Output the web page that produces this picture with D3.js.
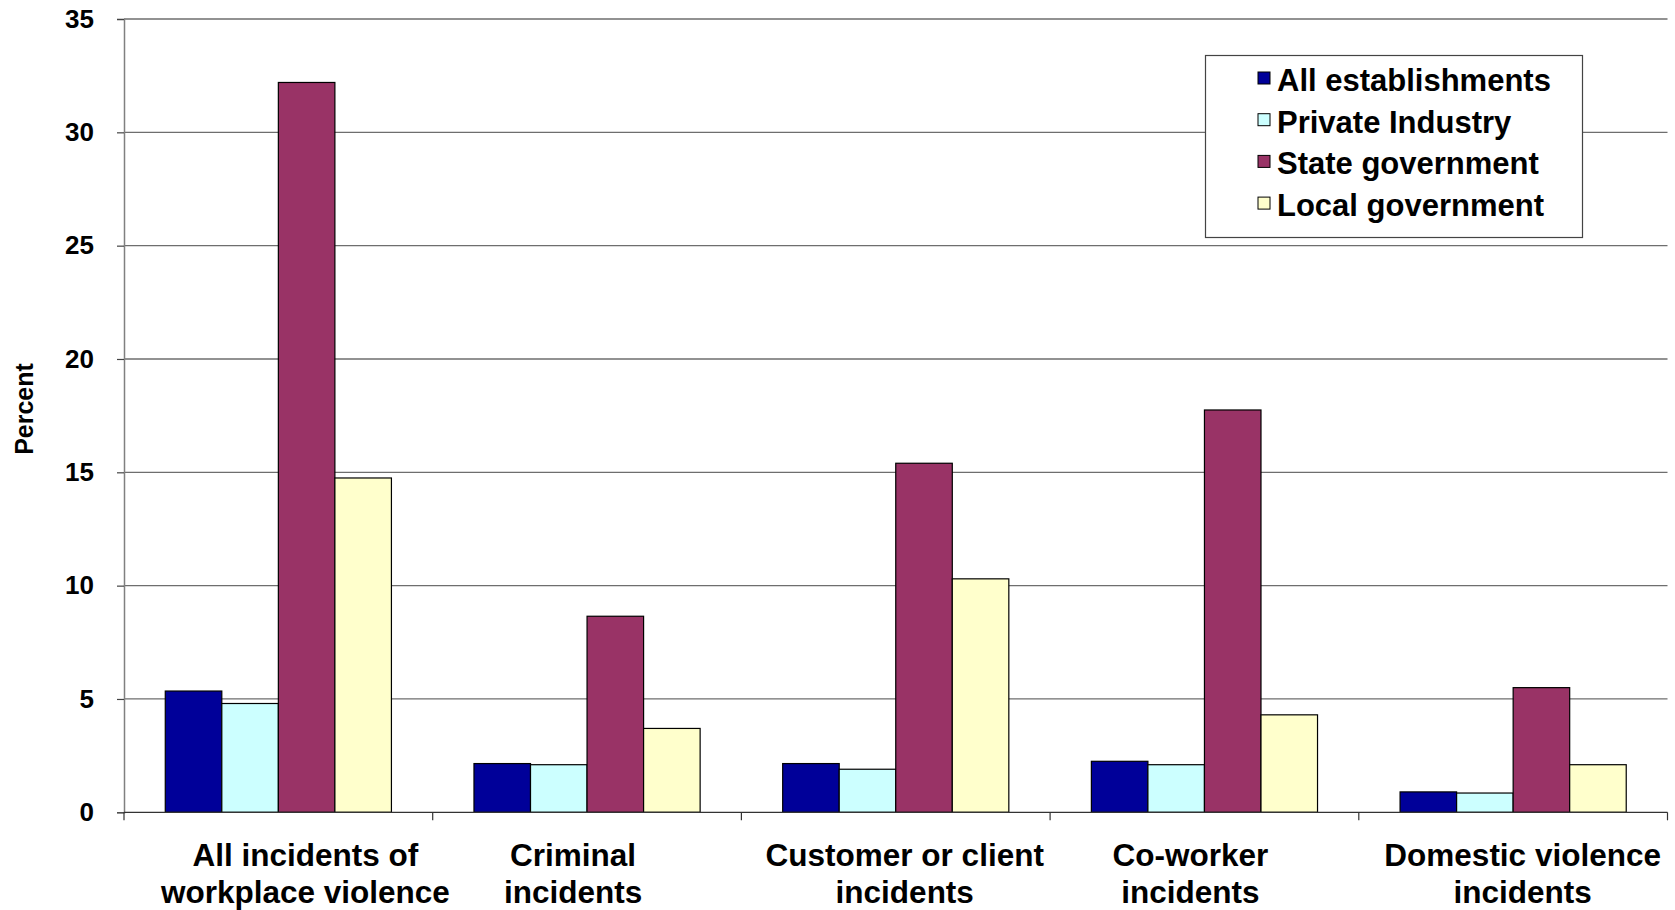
<!DOCTYPE html>
<html>
<head>
<meta charset="utf-8">
<script src="https://cdn.jsdelivr.net/npm/d3@7"></script>
<style>
  html, body { margin: 0; padding: 0; background: #fff; }
  text { font-family: "Liberation Sans", Arial, sans-serif; font-weight: bold; fill: #000; }
</style>
</head>
<body>
<svg id="chart" width="1675" height="910"></svg>
<script>
// ---- data ----
const categories = [
  ["All incidents of", "workplace violence"],
  ["Criminal", "incidents"],
  ["Customer or client", "incidents"],
  ["Co-worker", "incidents"],
  ["Domestic violence", "incidents"]
];
const seriesNames = ["All establishments", "Private Industry", "State government", "Local government"];
const allEstablishments = [5.35, 2.15, 2.15, 2.25, 0.9];
const privateIndustry   = [4.8, 2.1, 1.9, 2.1, 0.85];
const stateGovernment   = [32.2, 8.65, 15.4, 17.75, 5.5];
const localGovernment   = [14.75, 3.7, 10.3, 4.3, 2.1];
const yTicks = [0, 5, 10, 15, 20, 25, 30, 35];
const yTitle = "Percent";

const seriesValues = [allEstablishments, privateIndustry, stateGovernment, localGovernment];
const colors = ["#000099", "#CCFFFF", "#993366", "#FFFFCC"];

// ---- layout ----
const svg = d3.select("#chart");
const pLeft = 124, pRight = 1667.5, pTop = 19, pBottom = 812.3;
const catKeys = categories.map((c, i) => i);

const x0 = d3.scaleBand().domain(catKeys).range([pLeft, pRight]).paddingInner(0).paddingOuter(0);
const x1 = d3.scaleBand().domain(seriesNames).range([0, x0.bandwidth()]).paddingInner(0).paddingOuter(0.73);
const y = d3.scaleLinear().domain([0, 35]).range([pBottom, pTop]);

// gridlines
svg.append("g").selectAll("line").data(yTicks.filter(t => t > 0)).join("line")
  .attr("x1", pLeft).attr("x2", pRight)
  .attr("y1", d => y(d)).attr("y2", d => y(d))
  .attr("stroke", "#6e6e6e").attr("stroke-width", 1.3);

// y axis
const yAxis = d3.axisLeft(y).tickValues(yTicks).tickSize(7).tickPadding(23).tickFormat(d3.format("d"));
const gy = svg.append("g").attr("transform", `translate(${pLeft},0)`).call(yAxis);
gy.select(".domain").attr("stroke", "#808080").attr("stroke-width", 1.5);
gy.selectAll(".tick line").attr("stroke", "#444").attr("stroke-width", 1.2);
gy.selectAll(".tick text").style("font-size", "26px").style("font-family", "'Liberation Sans', Arial, sans-serif")
  .style("font-weight", "bold").attr("fill", "#000");

// bars
const groups = svg.append("g").selectAll("g").data(catKeys).join("g")
  .attr("transform", d => `translate(${x0(d)},0)`);
groups.selectAll("rect")
  .data(ci => seriesNames.map((s, si) => ({ s, si, v: seriesValues[si][ci] })))
  .join("rect")
  .attr("x", d => x1(d.s))
  .attr("width", x1.bandwidth())
  .attr("y", d => y(d.v))
  .attr("height", d => y(0) - y(d.v))
  .attr("fill", d => colors[d.si])
  .attr("stroke", "#000").attr("stroke-width", 1.2);

// x axis
const xAxisScale = d3.scaleLinear().domain([0, categories.length]).range([pLeft, pRight]);
const gx = svg.append("g").attr("transform", `translate(0,${pBottom})`);
gx.append("line").attr("x1", pLeft).attr("x2", pRight).attr("y1", 0).attr("y2", 0)
  .attr("stroke", "#333").attr("stroke-width", 1.3);
gx.selectAll("line.tk").data(d3.range(0, categories.length + 1)).join("line").attr("class", "tk")
  .attr("x1", d => xAxisScale(d)).attr("x2", d => xAxisScale(d))
  .attr("y1", 0).attr("y2", 8).attr("stroke", "#333").attr("stroke-width", 1.2);

// category labels (small nudges mimic the original's label placement)
const labelNudge = [27, -14, 9, -14, 9.5];
const lab = svg.append("g").selectAll("text").data(catKeys).join("text")
  .attr("text-anchor", "middle")
  .attr("x", d => x0(d) + x0.bandwidth() / 2 + labelNudge[d])
  .attr("y", 866)
  .style("font-size", "31.5px");
lab.selectAll("tspan").data(d => categories[d].map(line => ({ line, d }))).join("tspan")
  .attr("x", t => x0(t.d) + x0.bandwidth() / 2 + labelNudge[t.d])
  .attr("dy", (t, i) => i === 0 ? 0 : 37)
  .text(t => t.line);

// y title
svg.append("text")
  .attr("transform", `translate(33,409) rotate(-90)`)
  .attr("text-anchor", "middle")
  .style("font-size", "25px")
  .text(yTitle);

// legend
const lg = svg.append("g");
lg.append("rect").attr("x", 1205.5).attr("y", 55.5).attr("width", 377).attr("height", 182)
  .attr("fill", "#fff").attr("stroke", "#444").attr("stroke-width", 1.2);
const items = lg.selectAll("g.item").data(seriesNames).join("g").attr("class", "item")
  .attr("transform", (d, i) => `translate(0,${i * 41.7})`);
items.append("rect").attr("x", 1258).attr("y", 72).attr("width", 12).attr("height", 12)
  .attr("fill", (d, i) => colors[i]).attr("stroke", "#000").attr("stroke-width", 1);
items.append("text").attr("x", 1277).attr("y", 91).style("font-size", "31px").text(d => d);
</script>
</body>
</html>
